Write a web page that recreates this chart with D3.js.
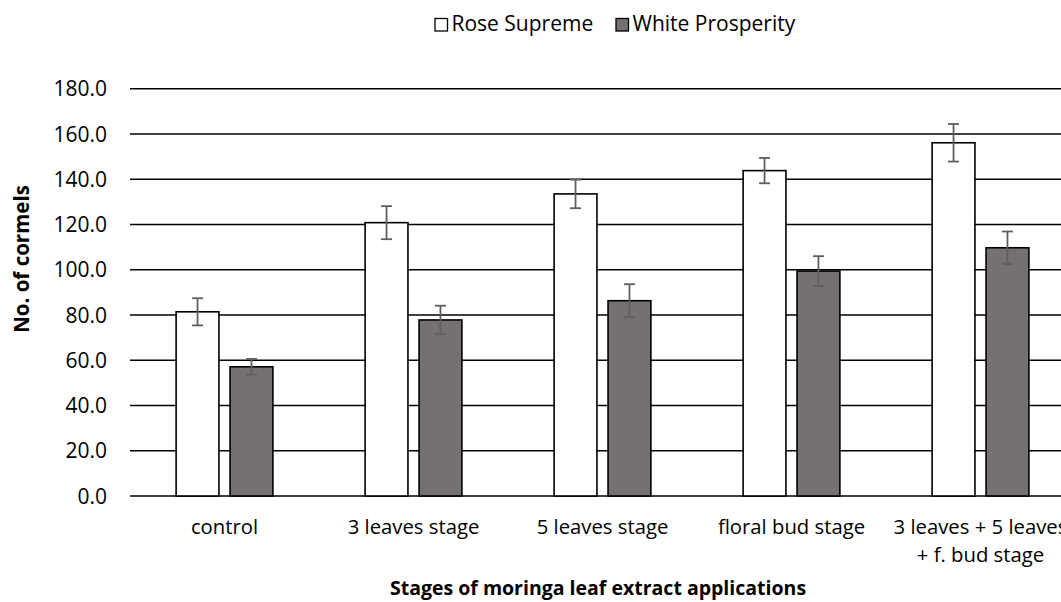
<!DOCTYPE html>
<html>
<head>
<meta charset="utf-8">
<script src="https://cdn.jsdelivr.net/npm/d3@7"></script>
<style>
  html, body { margin: 0; padding: 0; background: #fff; overflow: hidden; }
  svg { display: block; }
</style>
</head>
<body>
<div id="chart"></div>
<script>
// chart data
const categories = ["control", "3 leaves stage", "5 leaves stage", "floral bud stage", "3 leaves + 5 leaves|+ f. bud stage"];
const seriesNames = ["Rose Supreme", "White Prosperity"];
const roseSupreme = [81.4, 120.8, 133.5, 143.8, 156.1];
const roseErr = [6.0, 7.3, 6.3, 5.6, 8.3];
const whiteProsperity = [57.1, 77.8, 86.3, 99.4, 109.7];
const whiteErr = [3.5, 6.3, 7.3, 6.6, 7.2];
const yTicks = [0, 20, 40, 60, 80, 100, 120, 140, 160, 180];

const colors = ["#ffffff", "#767171"];
const font = "'Open Sans', sans-serif";

const width = 1061, height = 602;
const margin = { left: 130, right: -14, top: 88.7, bottom: 106 };

const svg = d3.select("#chart").append("svg")
    .attr("width", width)
    .attr("height", height)
    .style("font-family", font);

// build rows for the grouped bars
const rows = categories.map((c, i) => ({
    cat: c,
    vals: [
        { s: 0, v: roseSupreme[i], e: roseErr[i] },
        { s: 1, v: whiteProsperity[i], e: whiteErr[i] }
    ]
}));

const x0 = d3.scaleBand()
    .domain(categories)
    .range([margin.left, width - margin.right])
    .paddingInner(0.488)
    .paddingOuter(0.244);

const x1 = d3.scaleBand()
    .domain([0, 1])
    .range([0, x0.bandwidth()])
    .paddingInner(0.206);

const y = d3.scaleLinear()
    .domain([0, 180])
    .range([height - margin.bottom, margin.top]);

// gridlines
svg.append("g")
    .selectAll("line")
    .data(yTicks)
    .join("line")
    .attr("x1", margin.left)
    .attr("x2", width - margin.right)
    .attr("y1", d => y(d))
    .attr("y2", d => y(d))
    .attr("stroke", "#000")
    .attr("stroke-width", 1.4);

// y tick labels
svg.append("g")
    .selectAll("text")
    .data(yTicks)
    .join("text")
    .attr("x", 107)
    .attr("y", d => y(d))
    .attr("dy", "0.36em")
    .attr("text-anchor", "end")
    .attr("font-size", 21)
    .attr("fill", "#000")
    .text(d => d3.format(".1f")(d));

// bars
const group = svg.append("g")
    .selectAll("g")
    .data(rows)
    .join("g")
    .attr("transform", d => `translate(${x0(d.cat)},0)`);

group.selectAll("rect")
    .data(d => d.vals)
    .join("rect")
    .attr("x", d => x1(d.s))
    .attr("y", d => y(d.v))
    .attr("width", x1.bandwidth())
    .attr("height", d => y(0) - y(d.v))
    .attr("fill", d => colors[d.s])
    .attr("stroke", "#000")
    .attr("stroke-width", 1.6);

// error bars
const err = group.selectAll("g.err")
    .data(d => d.vals)
    .join("g")
    .attr("class", "err")
    .attr("stroke", "#5f5f5f")
    .attr("stroke-width", 1.8);

err.append("line")
    .attr("x1", d => x1(d.s) + x1.bandwidth() / 2)
    .attr("x2", d => x1(d.s) + x1.bandwidth() / 2)
    .attr("y1", d => y(d.v + d.e))
    .attr("y2", d => y(d.v - d.e));

err.selectAll("line.cap")
    .data(d => [d.v + d.e, d.v - d.e].map(v => ({ s: d.s, v })))
    .join("line")
    .attr("class", "cap")
    .attr("x1", d => x1(d.s) + x1.bandwidth() / 2 - 5.5)
    .attr("x2", d => x1(d.s) + x1.bandwidth() / 2 + 5.5)
    .attr("y1", d => y(d.v))
    .attr("y2", d => y(d.v));

// category labels (| marks a line break)
svg.append("g")
    .selectAll("text")
    .data(categories)
    .join("text")
    .attr("x", d => x0(d) + x0.bandwidth() / 2)
    .attr("y", 534)
    .attr("text-anchor", "middle")
    .attr("font-size", 20.3)
    .attr("fill", "#000")
    .selectAll("tspan")
    .data(d => d.split("|").map(t => ({ t, c: d })))
    .join("tspan")
    .attr("x", d => x0(d.c) + x0.bandwidth() / 2)
    .attr("dy", (d, i) => i === 0 ? 0 : 28)
    .text(d => d.t);

// axis titles
svg.append("text")
    .attr("transform", "translate(29,259) rotate(-90)")
    .attr("text-anchor", "middle")
    .attr("font-size", 20.5)
    .attr("font-weight", "bold")
    .text("No. of cormels");

svg.append("text")
    .attr("x", 598)
    .attr("y", 595)
    .attr("text-anchor", "middle")
    .attr("font-size", 19.5)
    .attr("font-weight", "bold")
    .text("Stages of moringa leaf extract applications");

// legend
const legendX = [435, 616];
const legend = svg.append("g")
    .selectAll("g")
    .data(seriesNames)
    .join("g")
    .attr("transform", (d, i) => `translate(${legendX[i]},18.5)`);

legend.append("rect")
    .attr("width", 12.5)
    .attr("height", 12.5)
    .attr("fill", (d, i) => colors[i])
    .attr("stroke", "#000")
    .attr("stroke-width", 1.3);

legend.append("text")
    .attr("x", 16.5)
    .attr("y", 12.5)
    .attr("font-size", 21)
    .attr("fill", "#000")
    .text(d => d);
</script>
</body>
</html>
